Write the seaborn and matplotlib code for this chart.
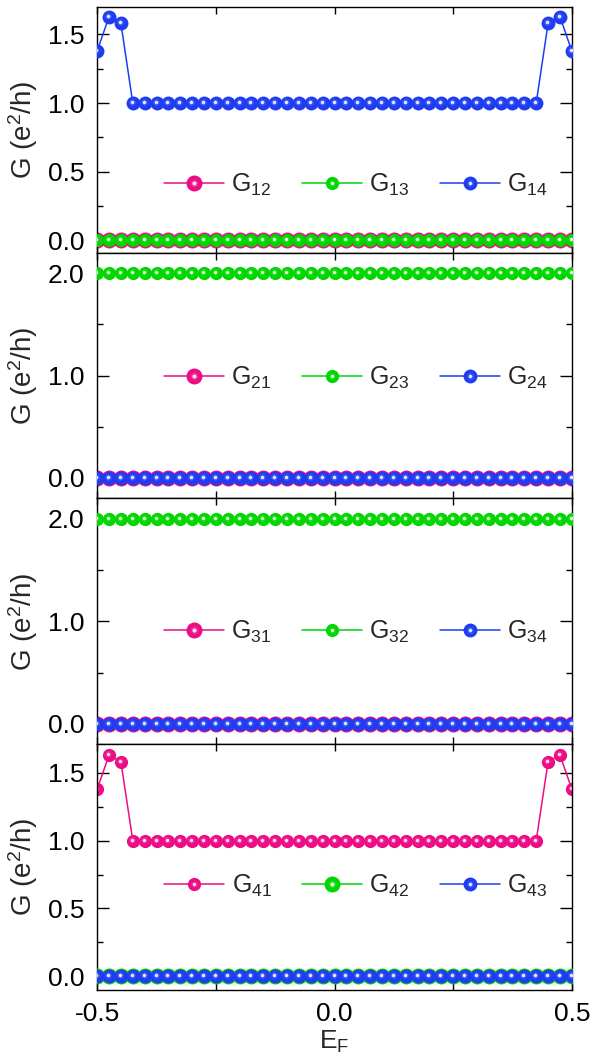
"""Four-terminal conductance G_ij versus Fermi energy, four stacked panels."""

import numpy as np
import pandas as pd
import matplotlib

matplotlib.use("Agg")
import matplotlib.pyplot as plt
import matplotlib.transforms as mtransforms
from matplotlib.legend_handler import HandlerTuple
from matplotlib.ticker import MultipleLocator, FormatStrFormatter
import seaborn as sns

# ---- data ------------------------------------------------------------------
e_f = np.linspace(-0.5, 0.5, 41)

edge_peak = [1.38, 1.63, 1.58] + [1.0] * 35 + [1.58, 1.63, 1.38]
zero = [0.0] * 41
two = [2.0] * 41

g12, g13, g14 = zero, zero, edge_peak
g21, g23, g24 = zero, two, zero
g31, g32, g34 = zero, two, zero
g41, g42, g43 = edge_peak, zero, zero

panel_labels = [
    ["12", "13", "14"],
    ["21", "23", "24"],
    ["31", "32", "34"],
    ["41", "42", "43"],
]
panel_series = [
    [g12, g13, g14],
    [g21, g23, g24],
    [g31, g32, g34],
    [g41, g42, g43],
]
# marker size (pt) for pink / green / blue in each panel
panel_msize = [
    [11.5, 9.5, 10.0],
    [11.5, 9.5, 10.0],
    [11.5, 9.5, 10.0],
    [9.5, 11.5, 10.0],
]
panel_ylim = [(-0.09, 1.70), (-0.2, 2.2), (-0.2, 2.2), (-0.1, 1.71)]
panel_major = [0.5, 1.0, 1.0, 0.5]
legend_y = [0.276, 0.49, 0.457, 0.425]

colors = ["#ec0c85", "#00d600", "#1e3cf2"]

# ---- style --------------------------------------------------------------------
sns.set_theme(style="ticks")
plt.rcParams["font.family"] = ["Liberation Sans", "DejaVu Sans"]
plt.rcParams["mathtext.default"] = "regular"
plt.rcParams["axes.linewidth"] = 1.0


def lighten(c, f):
    rgb = np.array(matplotlib.colors.to_rgb(c))
    return tuple(rgb + (1 - rgb) * f)


fig, axes = plt.subplots(4, 1, figsize=(6, 10.59), dpi=100, sharex=True)
fig.subplots_adjust(left=0.162, right=0.953, top=0.9934, bottom=0.0652, hspace=0)

for i, ax in enumerate(axes):
    handles = []
    labels = []
    hl_shift = mtransforms.offset_copy(ax.transData, fig=fig, x=-1.0, y=1.0, units="dots")
    for j in range(3):
        df = pd.DataFrame({"E": e_f, "G": panel_series[i][j]})
        ms = panel_msize[i][j]
        sns.lineplot(data=df, x="E", y="G", ax=ax, color=colors[j], lw=1.1,
                     marker="o", zorder=2 + j)
        main = ax.lines[-1]
        main.set_markersize(ms)
        main.set_markeredgewidth(0)
        main.set_markerfacecolor(colors[j])
        # glossy ball look: soft glow plus a small white spot
        h1, = ax.plot(df["E"], df["G"], ls="none", marker="o", markersize=ms * 0.5,
                      markeredgewidth=0, color=lighten(colors[j], 0.3), alpha=0.35,
                      transform=hl_shift, zorder=2 + j)
        h2, = ax.plot(df["E"], df["G"], ls="none", marker="o", markersize=ms * 0.26,
                      markeredgewidth=0, color="white", alpha=0.85,
                      transform=hl_shift, zorder=2 + j)
        handles.append((main, h1, h2))
        labels.append("G$_{" + panel_labels[i][j] + "}$")

    ax.legend(handles, labels, handler_map={tuple: HandlerTuple(ndivide=1)},
              loc="center", bbox_to_anchor=(0.545, legend_y[i]), ncol=3, frameon=False,
              fontsize=18, handlelength=2.4, handletextpad=0.3, columnspacing=1.2,
              numpoints=1)

    ax.set_xlim(-0.5, 0.5)
    ax.set_ylim(*panel_ylim[i])
    ax.yaxis.set_major_locator(MultipleLocator(panel_major[i]))
    ax.yaxis.set_minor_locator(MultipleLocator(panel_major[i] / 2))
    ax.yaxis.set_major_formatter(FormatStrFormatter("%.1f"))
    ax.xaxis.set_major_locator(MultipleLocator(0.25))
    ax.tick_params(axis="both", which="both", direction="in", top=True, right=True,
                   width=1.0, labelsize=19, pad=9, colors="black")
    ax.tick_params(axis="y", which="major", length=8.5)
    ax.tick_params(axis="y", which="minor", length=4)
    ax.tick_params(axis="x", which="major", length=5)
    ax.set_ylabel("G (e$^2$/h)", fontsize=20, labelpad=6)
    ax.set_xlabel("")
    for sp in ax.spines.values():
        sp.set_color("black")

axes[-1].set_xticks([-0.5, -0.25, 0.0, 0.25, 0.5])
axes[-1].set_xticklabels(["-0.5", "", "0.0", "", "0.5"])
axes[-1].set_xlabel("E$_F$", fontsize=19, labelpad=2)

fig.savefig("out.png", dpi=100)
